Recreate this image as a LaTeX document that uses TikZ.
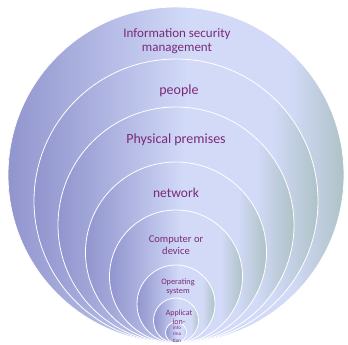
\documentclass[tikz,border=0pt]{standalone}
\usepackage{fontspec}
\setmainfont{Carlito}
\definecolor{ringL}{HTML}{9195CE}
\definecolor{ringM}{HTML}{D2DAF8}
\definecolor{ringR}{HTML}{AEC2C6}
\definecolor{tagcol}{HTML}{7A2A7A}
\pgfdeclarehorizontalshading{ringshade}{100bp}{color(0bp)=(ringL); color(25bp)=(ringL); color(52bp)=(ringM); color(67bp)=(ringM); color(75bp)=(ringR); color(100bp)=(ringR)}
\begin{document}
\begin{tikzpicture}[x=1pt, y=1pt,
    ring/.style = {circle, draw=white, line width=0.8pt, shading=ringshade, inner sep=0, outer sep=0, anchor=south},
    tag/.style  = {text=tagcol, align=center, inner sep=0}]
    \useasboundingbox (0,0) rectangle (348,345);
    \coordinate (base) at (176,2);

    \foreach \r [count=\i] in {168,142,118,90.5,66.5,39,22.5,10.5}
      \node[ring, minimum size=2*\r] (ring\i) at (base) {};

    \node[tag, font=\fontsize{13}{14.5}\selectfont] (ism)  at (177,304) {Information security\\management};
    \node[tag, font=\fontsize{14}{16}\selectfont]   (ppl)  at (179,254) {people};
    \node[tag, font=\fontsize{14}{16}\selectfont]   (phys) at (176,205) {Physical premises};
    \node[tag, font=\fontsize{13.5}{16}\selectfont] (net)  at (176,152) {network};
    \node[tag, font=\fontsize{10.5}{11.5}\selectfont] (comp) at (176,100) {Computer or\\device};
    \node[tag, font=\fontsize{8.3}{9.5}\selectfont] (os)   at (178,58)  {Operating\\system};
    \node[tag, font=\fontsize{8}{8.8}\selectfont]   (app)  at (179,28)  {Applicat\\ion-};
    \node[tag, font=\fontsize{5}{6.5}\selectfont]   (info) at (177,11)  {info\\rma\\tion};
\end{tikzpicture}
\end{document}
